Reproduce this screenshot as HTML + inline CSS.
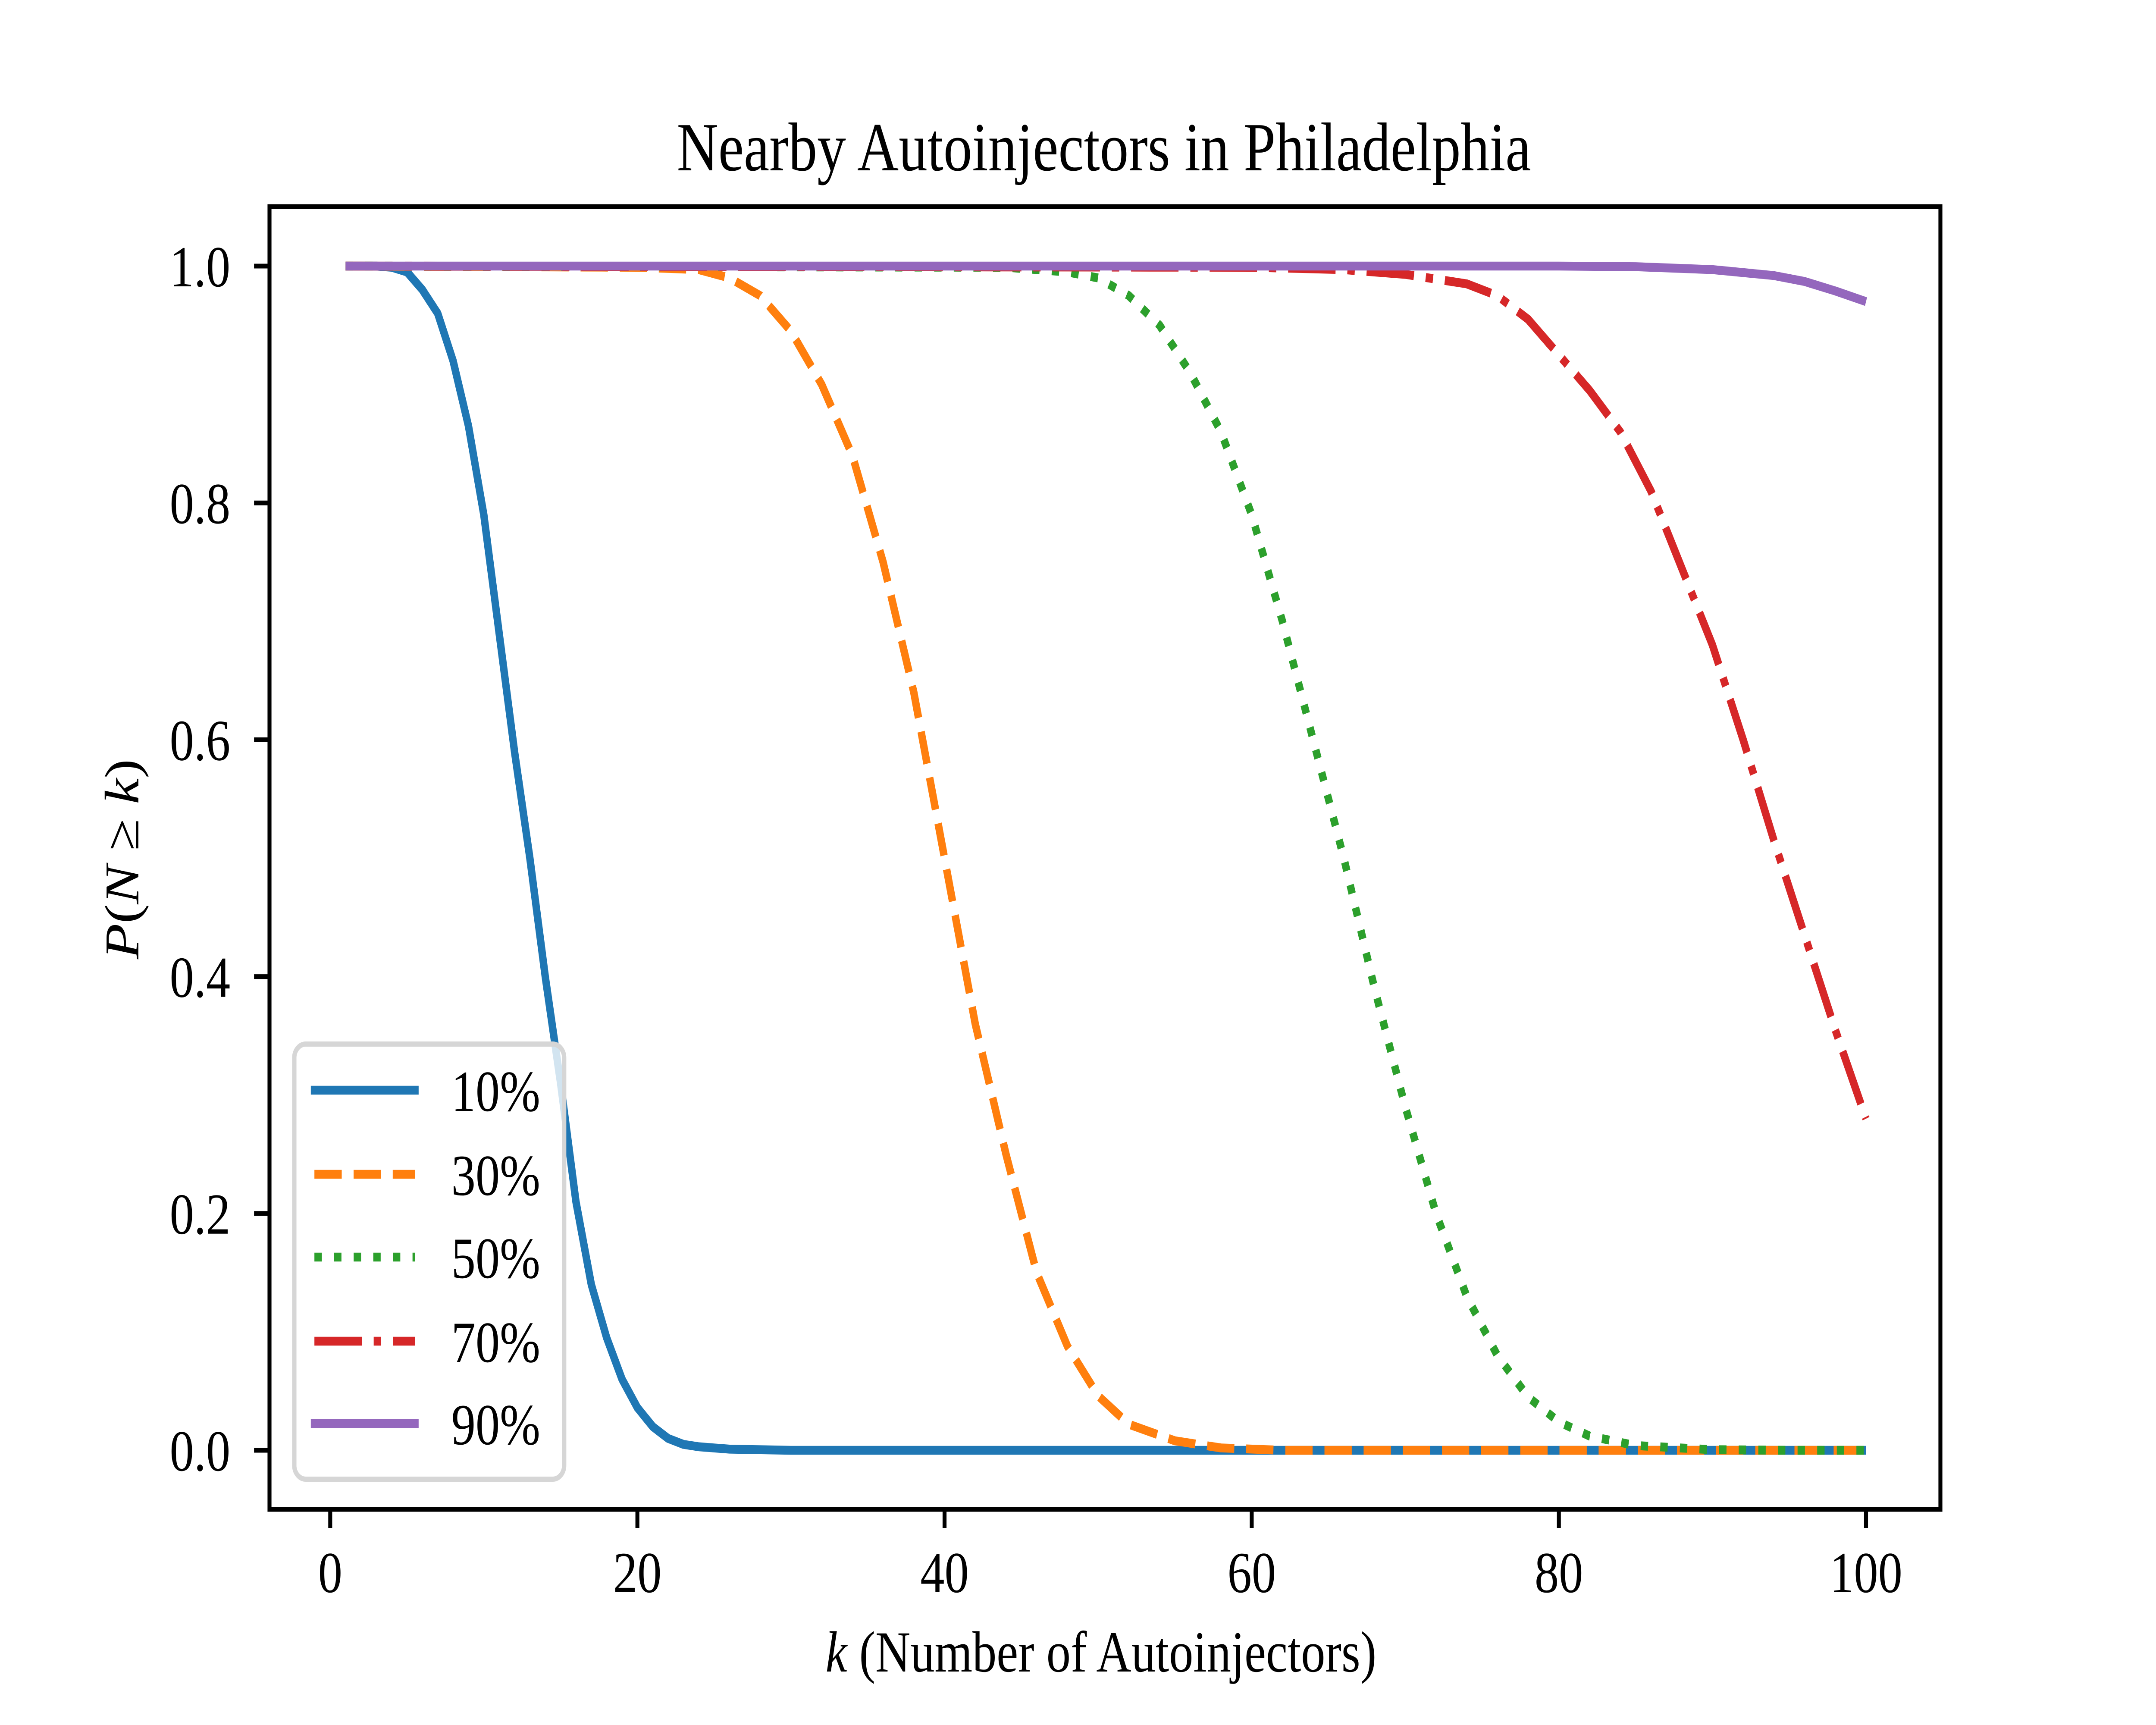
<!DOCTYPE html>
<html><head><meta charset="utf-8"><style>
html,body{margin:0;padding:0;background:#fff;overflow:hidden;width:100%;height:100%;}
svg{display:block;width:100vw;height:100vh;}
text{font-family:"Liberation Serif",serif;fill:#000;}
</style></head><body>
<svg id="chart" viewBox="0 0 6000 4000" preserveAspectRatio="none">
<rect x="0" y="0" width="6000" height="4000" fill="#fff"/>
<text x="3072" y="395" font-size="160" text-anchor="middle">Nearby Autoinjectors in Philadelphia</text>
<g id="plot"></g>
<g id="xticks"></g>
<g id="yticks"></g>
<rect x="750" y="479" width="4650" height="3021" fill="none" stroke="#000" stroke-width="11"/>
<text x="3064" y="3876" font-size="135" text-anchor="middle"><tspan font-style="italic">k</tspan> (Number of Autoinjectors)</text>
<text transform="translate(385,1992) rotate(-90)" font-size="135" text-anchor="middle"><tspan font-style="italic">P</tspan>(<tspan font-style="italic">N</tspan> ≥ <tspan font-style="italic">k</tspan>)</text>
<g id="legend"></g>
</svg>
<script>
const kValues10 = [1,3,4,5,6,7,8,9,10,11,12,13,14,15,16,17,18,19,20,21,22,23,24,26,30,100];
const pValues10 = [1,1,0.999,0.995,0.98,0.96,0.92,0.865,0.79,0.69,0.59,0.5,0.4,0.31,0.21,0.14,0.095,0.06,0.036,0.02,0.01,0.005,0.003,0.001,0,0];
const kValues30 = [1,20,24,26,28,30,32,34,36,38,40,42,44,46,48,50,52,55,58,62,100];
const pValues30 = [1,0.999,0.997,0.99,0.975,0.945,0.9,0.84,0.75,0.64,0.5,0.36,0.25,0.15,0.088,0.046,0.022,0.008,0.002,0,0];
const kValues50 = [1,44,48,50,52,54,56,58,60,62,64,66,68,70,72,74,76,78,80,82,85,90,95,100];
const pValues50 = [1,0.999,0.995,0.99,0.975,0.95,0.91,0.86,0.79,0.7,0.6,0.5,0.39,0.29,0.2,0.13,0.08,0.045,0.024,0.012,0.004,0.0005,0,0];
const kValues70 = [1,60,66,70,74,76,78,80,82,84,86,88,90,92,94,96,98,100];
const pValues70 = [1,0.999,0.997,0.993,0.985,0.975,0.955,0.925,0.895,0.86,0.81,0.745,0.68,0.6,0.515,0.435,0.355,0.28];
const kValues90 = [1,80,85,90,94,96,98,100];
const pValues90 = [1,1,0.9995,0.997,0.992,0.987,0.979,0.97];
const xTickValues = [0,20,40,60,80,100];
const yTickValues = [0,0.2,0.4,0.6,0.8,1.0];
const yTickLabels = ["0.0","0.2","0.4","0.6","0.8","1.0"];
const seriesLabels = ["10%","30%","50%","70%","90%"];

const NS = "http://www.w3.org/2000/svg";
function xScale(k){ return 919 + k * 42.74; }
function yScale(p){ return 3363 - p * 2746; }
const colors = ["#1f77b4","#ff7f0e","#2ca02c","#d62728","#9467bd"];
const dashes = ["", "76 33", "20.6 34", "132 33 20.6 33", ""];
const allK = [kValues10,kValues30,kValues50,kValues70,kValues90];
const allP = [pValues10,pValues30,pValues50,pValues70,pValues90];
const names = ["series-10pct","series-30pct","series-50pct","series-70pct","series-90pct"];

const plot = document.getElementById("plot");
for (let s = 0; s < 5; s++) {
  const ks = allK[s], ps = allP[s];
  let d = "";
  for (let i = 0; i < ks.length; i++) d += (i ? "L" : "M") + xScale(ks[i]).toFixed(1) + "," + yScale(ps[i]).toFixed(1);
  const path = document.createElementNS(NS, "path");
  path.setAttribute("d", d);
  path.setAttribute("fill", "none");
  path.setAttribute("stroke", colors[s]);
  path.setAttribute("stroke-width", "20.6");
  path.setAttribute("stroke-linejoin", "round");
  if (dashes[s]) path.setAttribute("stroke-dasharray", dashes[s]);
  
  
  plot.appendChild(path);
}

const xg = document.getElementById("xticks");
xTickValues.forEach(v => {
  const x = xScale(v);
  const t = document.createElementNS(NS, "line");
  t.setAttribute("x1", x); t.setAttribute("x2", x);
  t.setAttribute("y1", 3500); t.setAttribute("y2", 3543);
  t.setAttribute("stroke", "#000"); t.setAttribute("stroke-width", "11");
  
  
  xg.appendChild(t);
  const l = document.createElementNS(NS, "text");
  l.setAttribute("x", x); l.setAttribute("y", 3692);
  l.setAttribute("font-size", "135"); l.setAttribute("text-anchor", "middle");
  l.textContent = String(v);
  
  
  xg.appendChild(l);
});
const yg = document.getElementById("yticks");
yTickValues.forEach((v, i) => {
  const y = yScale(v);
  const t = document.createElementNS(NS, "line");
  t.setAttribute("x1", 707); t.setAttribute("x2", 750);
  t.setAttribute("y1", y); t.setAttribute("y2", y);
  t.setAttribute("stroke", "#000"); t.setAttribute("stroke-width", "11");
  
  
  yg.appendChild(t);
  const l = document.createElementNS(NS, "text");
  l.setAttribute("x", 641); l.setAttribute("y", y + 47);
  l.setAttribute("font-size", "135"); l.setAttribute("text-anchor", "end");
  l.textContent = yTickLabels[i];
  
  
  yg.appendChild(l);
});

const lg = document.getElementById("legend");
const frame = document.createElementNS(NS, "rect");
frame.setAttribute("x", 819); frame.setAttribute("y", 2421);
frame.setAttribute("width", 751); frame.setAttribute("height", 1009);
frame.setAttribute("rx", 32);
frame.setAttribute("fill", "#fff"); frame.setAttribute("fill-opacity", "0.8");
frame.setAttribute("stroke", "#d6d6d6"); frame.setAttribute("stroke-width", "12");


lg.appendChild(frame);
const entryY = [2528, 2723, 2915, 3110, 3301];
for (let s = 0; s < 5; s++) {
  const ln = document.createElementNS(NS, "line");
  ln.setAttribute("x1", s === 0 || s === 4 ? 865 : 875); ln.setAttribute("x2", s === 0 || s === 4 ? 1165 : 1155);
  ln.setAttribute("y1", entryY[s]); ln.setAttribute("y2", entryY[s]);
  ln.setAttribute("stroke", colors[s]); ln.setAttribute("stroke-width", "20.6");
  if (dashes[s]) ln.setAttribute("stroke-dasharray", dashes[s]);
  
  
  lg.appendChild(ln);
  const tx = document.createElementNS(NS, "text");
  tx.setAttribute("x", 1256); tx.setAttribute("y", entryY[s] + 48);
  tx.setAttribute("font-size", "135");
  tx.textContent = seriesLabels[s];
  
  
  lg.appendChild(tx);
}
</script>
</body></html>
